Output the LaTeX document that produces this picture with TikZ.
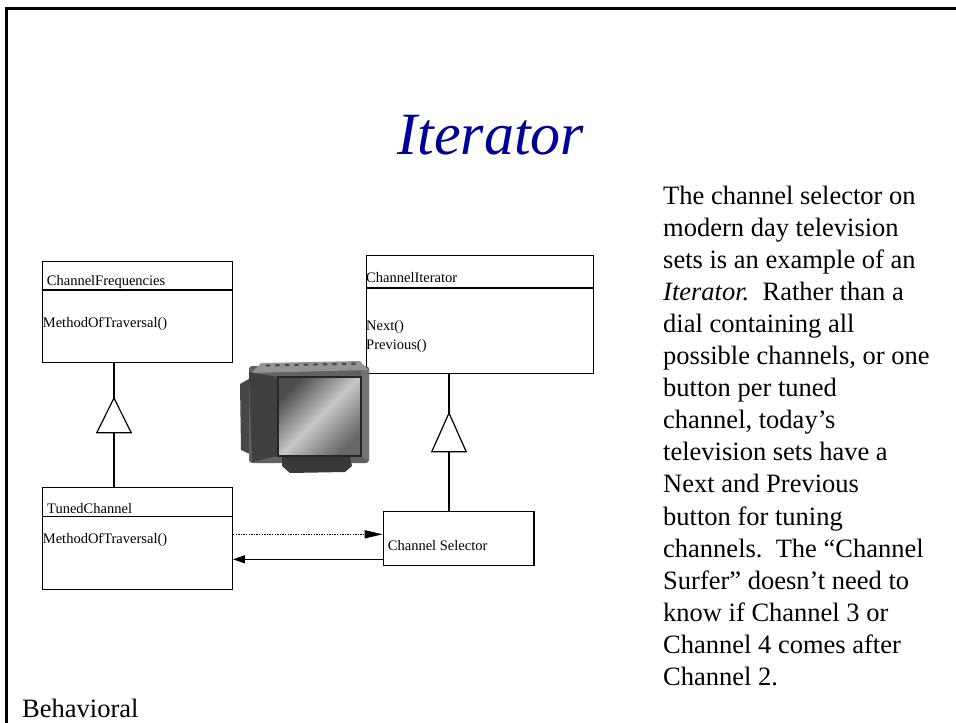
\documentclass[tikz,border=0pt]{standalone}
\usepackage{fontspec}
\setmainfont{Liberation Serif}
\usetikzlibrary{arrows.meta,calc}
\definecolor{titleblue}{RGB}{0,0,153}
\begin{document}
\begin{tikzpicture}[x=1pt,y=-1pt,
  umlbox/.style={draw, line width=1.2pt, inner sep=0pt, anchor=north west},
  umlline/.style={line width=1.2pt},
  lbl/.style={inner sep=0pt, anchor=base west, font=\fontsize{14.5}{17}\selectfont},
  desc/.style={inner sep=0pt, anchor=base west, font=\fontsize{26.5}{32}\selectfont},
  gentri/.style={draw, line width=1.2pt, fill=white}
]
\useasboundingbox (0,0) rectangle (956,723);
% frame
\draw[line width=3pt] (6.5,723) -- (6.5,8.5) -- (956,8.5);

% title
\node[inner sep=0pt, anchor=base, text=titleblue, font=\itshape\fontsize{60}{72}\selectfont] (title) at (490.8,154) {Iterator};

% boxes
\node[umlbox, minimum width=190pt, minimum height=100.7pt] (cf) at (41.7,261) {};
\node[umlbox, minimum width=190pt, minimum height=102pt] (tc) at (41.7,487) {};
\node[umlbox, minimum width=227pt, minimum height=117.7pt] (ci) at (366,255) {};
\node[umlbox, minimum width=150.6pt, minimum height=54pt] (cs) at (382.7,511) {};

% header separators
\draw[umlline] ([yshift=-29pt]cf.north west) -- ([yshift=-29pt]cf.north east);
\draw[umlline] ([yshift=-29.7pt]tc.north west) -- ([yshift=-29.7pt]tc.north east);
\draw[umlline] ([yshift=-33pt]ci.north west) -- ([yshift=-33pt]ci.north east);

% labels
\node[lbl] (cfname) at (46.7,285) {ChannelFrequencies};
\node[lbl] (cfop) at (42.7,327) {MethodOfTraversal()};
\node[lbl] (tcname) at (47,513) {TunedChannel};
\node[lbl] (tcop) at (42.7,543) {MethodOfTraversal()};
\node[lbl] (ciname) at (366,282) {ChannelIterator};
\node[lbl] (cinext) at (366,330) {Next()};
\node[lbl] (ciprev) at (366,349) {Previous()};
\node[lbl] (csname) at (387.7,550) {Channel Selector};

% generalizations
\coordinate (t1) at (114,398);
\coordinate (t2) at (449,413);
\draw[umlline] (cf.south -| t1) -- (tc.north -| t1);
\draw[gentri] (t1) -- ++(17.2,34.7) -- ++(-34.4,0) -- cycle;
\draw[umlline] (ci.south -| t2) -- (cs.north -| t2);
\draw[gentri] (t2) -- ++(17.2,38.7) -- ++(-34.4,0) -- cycle;

% associations
\coordinate (a1) at (0,534.3);
\coordinate (a2) at (0,559.3);
\draw[umlline, dash pattern=on 1.4pt off 1.2pt, -{Triangle[length=18pt,width=8pt]}] (tc.east |- a1) -- (cs.west |- a1);
\draw[umlline, -{Triangle[length=12pt,width=8pt]}] (cs.west |- a2) -- (tc.east |- a2);

% television
\fill[black!72] (240,384) -- (254,376) -- (254,456) -- (241,450) -- cycle;
\fill[black!62, rounded corners=3pt] (249,366) rectangle (369,463);
\fill[black!42] (251,373) -- (261,363) -- (360,361) -- (368,370) -- cycle;
\foreach \k in {0,...,9} \fill[black!70] ({268+9.5*\k},{365.5-0.2*\k}) ellipse (2.6pt and 1.2pt);
\fill[black!75] (249,372) -- (277,377) -- (277,456) -- (252,462) -- cycle;
\fill[black!55] (361,370) -- (369,370) -- (369,460) -- (361,456) -- cycle;
\shade[shading=axis, left color=black!70, right color=black!60, middle color=black!22, shading angle=45] (278,377) rectangle (361,456);
\draw[black!85, line width=1.4pt] (278,377) rectangle (361,456);
\fill[black!78] (282,457) -- (350,457) -- (352,466) -- (345,472) -- (290,473) -- (282,466) -- cycle;

% description
\foreach \t [count=\i from 0] in {
  {The channel selector on},
  {modern day television},
  {sets is an example of an},
  {\textit{Iterator.}\ \ Rather than a},
  {dial containing all},
  {possible channels, or one},
  {button per tuned},
  {channel, today’s},
  {television sets have a},
  {Next and Previous},
  {button for tuning},
  {channels.\ \ The “Channel},
  {Surfer” doesn’t need to},
  {know if Channel 3 or},
  {Channel 4 comes after},
  {Channel 2.}}
  \node[desc] (d\i) at (663,{204+32.1*\i}) {\t};

\node[desc] (cat) at (22,717) {Behavioral};
\end{tikzpicture}
\end{document}
